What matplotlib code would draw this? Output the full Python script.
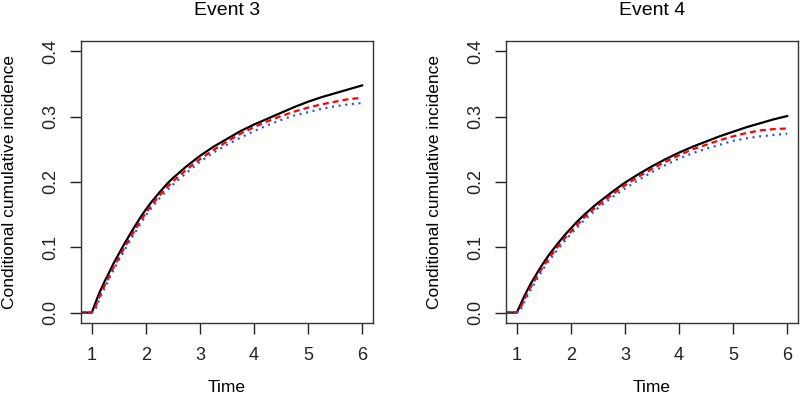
import matplotlib
matplotlib.use("Agg")
import matplotlib.pyplot as plt

plt.rcParams['font.family'] = ['Liberation Sans', 'DejaVu Sans']

titles = ["Event 3", "Event 4"]
xlabel = "Time"
ylabel = "Conditional cumulative incidence"
xticks = [1, 2, 3, 4, 5, 6]
yticks = [0.0, 0.1, 0.2, 0.3, 0.4]

t = [0.0, 1.0, 1.05, 1.1, 1.15, 1.2, 1.25, 1.3, 1.4, 1.5, 1.6, 1.75, 1.9, 2.0, 2.1,
     2.25, 2.4, 2.5, 2.75, 3.0, 3.25, 3.5, 3.75, 4.0, 4.25, 4.5, 4.75, 5.0, 5.25,
     5.5, 5.75, 6.0]

ev3_black = [0, 0, 0.011, 0.022, 0.032, 0.041, 0.050, 0.058, 0.075, 0.090, 0.105, 0.126,
             0.146, 0.158, 0.169, 0.184, 0.198, 0.206, 0.224, 0.240, 0.254, 0.266, 0.278,
             0.288, 0.297, 0.306, 0.315, 0.323, 0.330, 0.336, 0.342, 0.348]
ev3_red = [0, 0, 0.005, 0.016, 0.026, 0.035, 0.044, 0.052, 0.069, 0.084, 0.099, 0.120,
           0.140, 0.153, 0.164, 0.179, 0.193, 0.201, 0.219, 0.235, 0.249, 0.262, 0.274,
           0.284, 0.293, 0.301, 0.308, 0.314, 0.319, 0.323, 0.327, 0.329]
ev3_blue = [0, 0, 0.002, 0.012, 0.022, 0.031, 0.040, 0.048, 0.065, 0.080, 0.095, 0.116,
            0.136, 0.149, 0.160, 0.175, 0.188, 0.196, 0.214, 0.231, 0.245, 0.257, 0.268,
            0.278, 0.287, 0.295, 0.302, 0.307, 0.312, 0.316, 0.319, 0.321]

ev4_black = [0, 0, 0.009, 0.018, 0.027, 0.035, 0.043, 0.050, 0.064, 0.077, 0.089, 0.105,
             0.120, 0.129, 0.138, 0.150, 0.161, 0.168, 0.184, 0.199, 0.212, 0.224, 0.235,
             0.245, 0.254, 0.262, 0.270, 0.277, 0.284, 0.290, 0.296, 0.301]
ev4_red = [0, 0, 0.004, 0.013, 0.022, 0.030, 0.038, 0.045, 0.059, 0.072, 0.084, 0.100,
           0.115, 0.124, 0.133, 0.146, 0.157, 0.164, 0.180, 0.195, 0.208, 0.220, 0.231,
           0.241, 0.250, 0.257, 0.264, 0.270, 0.275, 0.279, 0.281, 0.282]
ev4_blue = [0, 0, 0.001, 0.009, 0.018, 0.026, 0.034, 0.041, 0.055, 0.068, 0.080, 0.096,
            0.111, 0.120, 0.129, 0.142, 0.153, 0.160, 0.176, 0.190, 0.203, 0.215, 0.226,
            0.236, 0.244, 0.251, 0.257, 0.263, 0.267, 0.270, 0.272, 0.274]

panels = [(ev3_black, ev3_red, ev3_blue), (ev4_black, ev4_red, ev4_blue)]

fig = plt.figure(figsize=(8, 4.05), dpi=100)
lefts = [81 / 800, 506 / 800]
w = 292 / 800
b = 1 - 323 / 405
h = 282 / 405

for i, (blk, red, blu) in enumerate(panels):
    ax = fig.add_axes([lefts[i], b, w, h])
    ax.plot(t, blk, color='black', lw=1.6, solid_joinstyle='round')
    ax.plot(t, red, color='#ff0000', lw=1.6, linestyle=(0, (2.7, 1.8)))
    ax.plot(t, blu, color='#2a4fe0', lw=1.6, linestyle=(0, (0.9, 2.1)))
    ax.set_xlim(0.8, 6.2)
    ax.set_ylim(-0.016, 0.416)
    ax.set_xticks(xticks)
    ax.set_xticklabels([str(v) for v in xticks], fontsize=13)
    ax.set_yticks(yticks)
    ax.set_yticklabels([f"{v:.1f}" for v in yticks], fontsize=13, rotation=90, va='center')
    ax.tick_params(direction='out', length=8, width=1, pad=9, colors='#222222')
    ax.tick_params(axis='y', pad=8)
    for s in ax.spines.values():
        s.set_linewidth(1.0)
        s.set_color('#333333')
    ax.set_title(titles[i], fontsize=14, pad=19)
    ax.set_xlabel(xlabel, fontsize=12.5, labelpad=12)
    ax.set_ylabel(ylabel, fontsize=12.5, labelpad=18)

fig.savefig("out.png", dpi=100)
